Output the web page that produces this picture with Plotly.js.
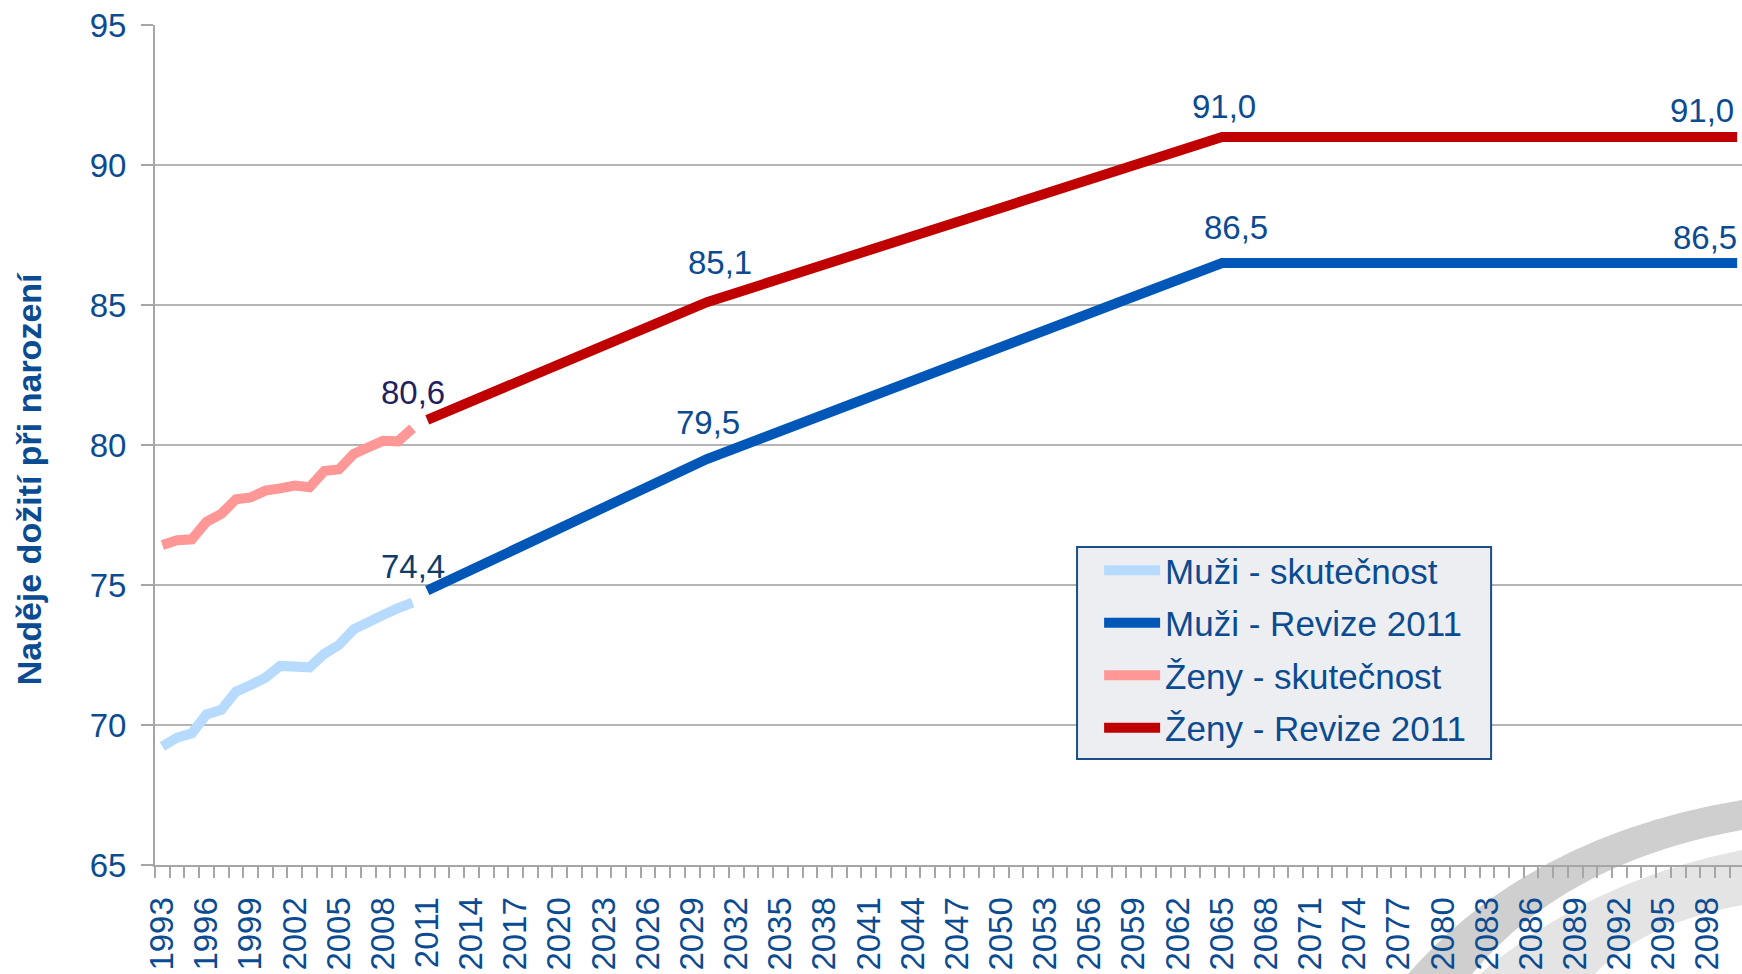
<!DOCTYPE html>
<html>
<head>
<meta charset="utf-8">
<script src="https://cdn.plot.ly/plotly-3.0.1.min.js"></script>
<style>html,body{margin:0;padding:0;background:#fff;}#chart{width:1742px;height:974px;}</style>
</head>
<body>
<div id="chart"></div>
<script>
// ---- data ----
const histYears = [1993,1994,1995,1996,1997,1998,1999,2000,2001,2002,2003,2004,2005,2006,2007,2008,2009,2010];
const muziSkutecnost = [69.23,69.55,69.70,70.38,70.54,71.19,71.43,71.69,72.11,72.11,72.06,72.54,72.86,73.42,73.63,73.93,74.17,74.37];
const zenySkutecnost = [76.43,76.60,76.63,77.26,77.54,78.06,78.13,78.37,78.45,78.55,78.49,79.07,79.13,79.68,79.92,80.15,80.13,80.60];
const projYears = [2011,2030,2065,2100];
const muziRevize = [74.8,79.5,86.5,86.5];
const zenyRevize = [80.9,85.1,91.0,91.0];
const tickYears = [1993,1996,1999,2002,2005,2008,2011,2014,2017,2020,2023,2026,2029,2032,2035,2038,2041,2044,2047,2050,2053,2056,2059,2062,2065,2068,2071,2074,2077,2080,2083,2086,2089,2092,2095,2098];
const seriesNames = ['Muži - skutečnost','Muži - Revize 2011','Ženy - skutečnost','Ženy - Revize 2011'];
const yTitle = 'Naděje dožití při narození';

const FONT = "'Liberation Sans', Arial, sans-serif";
const BLUE_TXT = '#0b4b91';
const GRID = '#b4b4b4';
const AXIS = '#a6a6a6';
const fmt = v => v.toFixed(1).replace('.', ',');

const lw = 10;
const traces = [
  {x: histYears, y: muziSkutecnost, name: seriesNames[0], color: '#b7dbff', g: 'a'},
  {x: projYears, y: muziRevize, name: seriesNames[1], color: '#0057b8', g: 'b'},
  {x: histYears, y: zenySkutecnost, name: seriesNames[2], color: '#ff9797', g: 'c'},
  {x: projYears, y: zenyRevize, name: seriesNames[3], color: '#c00000', g: 'd'}
].map(t => ({
  type: 'scatter', mode: 'lines', x: t.x, y: t.y, name: t.name, legendgroup: t.g,
  line: {color: t.color, width: lw}, hoverinfo: 'skip'
}));

// data labels: [x, y, xshift, yshift, color]
const n = histYears.length - 1;
const labels = [
  [histYears[n], zenySkutecnost[n], 0, 36, '#231f5f'],
  [histYears[n], muziSkutecnost[n], 0, 36, '#0f3c68'],
  [projYears[1], zenyRevize[1], 13, 40, BLUE_TXT],
  [projYears[1], muziRevize[1], 1, 37, BLUE_TXT],
  [projYears[2], zenyRevize[2], 2, 31, BLUE_TXT],
  [projYears[2], muziRevize[2], 14, 36, BLUE_TXT],
  [projYears[3], zenyRevize[3], -35, 27, BLUE_TXT],
  [projYears[3], muziRevize[3], -32, 26, BLUE_TXT]
];
const annotations = labels.map(l => ({
  x: l[0], y: l[1], xref: 'x', yref: 'y', text: fmt(l[1]), showarrow: false,
  xshift: l[2], yshift: l[3], xanchor: 'center', yanchor: 'middle',
  font: {family: FONT, size: 33, color: l[4]}
}));

// geometry helpers for decoration (paper coords)
const L = 154.7, W = 1587.3, B = 865, H = 840;
const px = x => ((x - L) / W).toFixed(4);
const py = y => ((B - y) / H).toFixed(4);

// y-axis title (placed as rotated text, slightly below the plot centre as in the original)
annotations.push({
  xref: 'paper', yref: 'paper', x: +px(29), y: +py(479), xanchor: 'center', yanchor: 'middle',
  text: '<b>' + yTitle + '</b>', textangle: -90, showarrow: false,
  font: {family: FONT, size: 34, color: BLUE_TXT}
});

const shapes = [
  // watermark-like grey swoosh in the lower right corner
  {type: 'path', xref: 'paper', yref: 'paper', layer: 'below', line: {width: 0}, fillcolor: '#e4e4e4',
   path: `M ${px(1480)} ${py(974)} Q ${px(1590)} ${py(880)} ${px(1742)} ${py(850)} L ${px(1742)} ${py(905)} Q ${px(1640)} ${py(925)} ${px(1595)} ${py(974)} Z`},
  {type: 'path', xref: 'paper', yref: 'paper', layer: 'below', line: {width: 0}, fillcolor: '#cfcfcf',
   path: `M ${px(1408)} ${py(974)} Q ${px(1530)} ${py(835)} ${px(1742)} ${py(800)} L ${px(1742)} ${py(830)} Q ${px(1565)} ${py(862)} ${px(1472)} ${py(974)} Z`},
  // legend frame
  {type: 'rect', xref: 'paper', yref: 'paper', layer: 'above',
   x0: +px(1077), x1: +px(1491), y0: +py(759), y1: +py(547),
   fillcolor: '#edeef2', line: {color: '#1b4f8a', width: 2}}
];

const layout = {
  width: 1742, height: 974,
  margin: {l: 155, r: 0, t: 25, b: 109},
  paper_bgcolor: '#ffffff', plot_bgcolor: 'rgba(0,0,0,0)',
  font: {family: FONT, color: BLUE_TXT},
  showlegend: true,
  legend: {
    x: +px(1099), y: +py(541), xanchor: 'left', yanchor: 'top',
    bgcolor: 'rgba(0,0,0,0)', borderwidth: 0,
    font: {family: FONT, size: 35, color: BLUE_TXT},
    tracegroupgap: 4, itemwidth: 56, traceorder: 'grouped'
  },
  xaxis: {
    type: 'linear', range: [1992.5, 2100.33], fixedrange: true,
    tickmode: 'array', tickvals: tickYears, ticktext: tickYears.map(String),
    tickangle: -90, ticks: 'outside', ticklen: 11, tickcolor: 'rgba(0,0,0,0)',
    ticklabelstandoff: 6,
    tickfont: {family: FONT, size: 33, color: BLUE_TXT},
    showgrid: false, zeroline: false,
    showline: true, linecolor: AXIS, linewidth: 2,
    minor: {tickmode: 'linear', tick0: 1992.5, dtick: 1, ticks: 'outside', ticklen: 11, tickcolor: AXIS, tickwidth: 2, showgrid: false}
  },
  yaxis: {
    range: [65, 95], dtick: 5, fixedrange: true,
    ticks: 'outside', ticklen: 12, tickcolor: AXIS, tickwidth: 2,
    tickfont: {family: FONT, size: 33, color: BLUE_TXT},
    showgrid: true, gridcolor: GRID, gridwidth: 1.5, zeroline: false,
    showline: true, linecolor: AXIS, linewidth: 2,
    ticklabelstandoff: 8
  },
  annotations: annotations,
  shapes: shapes
};

Plotly.newPlot('chart', traces, layout, {displayModeBar: false, staticPlot: true});
</script>
</body>
</html>
